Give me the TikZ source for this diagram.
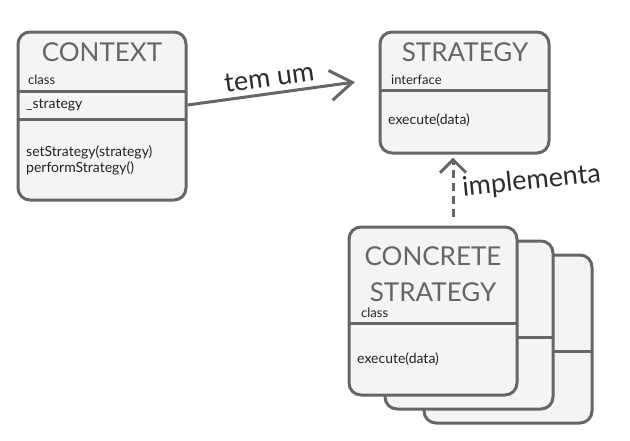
\documentclass[tikz,border=0pt]{standalone}
\usepackage{fontspec}
\setmainfont{Lato}
\usetikzlibrary{arrows.meta}
\definecolor{linegray}{HTML}{666666}
\definecolor{boxfill}{HTML}{F4F4F4}
\definecolor{inkgray}{HTML}{222222}

\begin{document}
\begin{tikzpicture}[x=1pt, y=-1pt,
    box/.style={draw=linegray, line width=3pt, fill=boxfill, rectangle, rounded corners=12pt, inner sep=0pt},
    rule/.style={draw=linegray, line width=3pt},
    title/.style={font=\fontsize{26}{31}\selectfont, text=linegray, inner sep=0pt},
    kind/.style={font=\fontsize{13}{15}\selectfont, text=inkgray, inner sep=0pt, anchor=west},
    member/.style={font=\fontsize{14}{17}\selectfont, text=inkgray, inner sep=0pt, anchor=west},
    lbl/.style={font=\fontsize{27}{32}\selectfont, text=inkgray!85!linegray, inner sep=2pt},
    hasa/.style={draw=linegray, line width=3pt, -{Straight Barb[length=22pt, width=30pt]}},
    impl/.style={draw=linegray, line width=3pt, dash pattern=on 8pt off 5pt, -{Straight Barb[length=13pt, width=26pt]}}]
    % page frame
    \useasboundingbox (0,0) rectangle (630,440);

    % context class
    \node (context) at (102,116) [box, minimum width=168pt, minimum height=168pt] {};
    \draw [rule] (18,91) -- (186,91);
    \draw [rule] (18,119) -- (186,119);
    \node (ctxtitle) at (102,52) [title] {CONTEXT};
    \node (ctxkind) at (28,80) [kind] {class};
    \node (ctxfield) at (26,105) [member] {\_strategy};
    \node (ctxset) at (26,152) [member] {setStrategy(strategy)};
    \node (ctxrun) at (26,168) [member] {performStrategy()};

    % strategy interface
    \node (strategy) at (464.5,92.5) [box, minimum width=169pt, minimum height=121pt] {};
    \draw [rule] (380,90) -- (549,90);
    \node (strtitle) at (465,52) [title] {STRATEGY};
    \node (strkind) at (391,80) [kind] {interface};
    \node (strexec) at (388,120) [member] {execute(data)};

    % concrete strategies, back to front
    \node (concreteC) at (508,339) [box, minimum width=168pt, minimum height=168pt] {};
    \draw [rule] (424,351) -- (592,351);
    \node (concreteB) at (469,325) [box, minimum width=168pt, minimum height=168pt] {};
    \draw [rule] (385,337) -- (553,337);
    \node (concrete) at (433,311) [box, minimum width=168pt, minimum height=168pt] {};
    \draw [rule] (349,323) -- (517,323);
    \node (contitle) at (433,274) [title, align=center] {CONCRETE\\[5pt]STRATEGY};
    \node (conkind) at (361,313) [kind] {class};
    \node (conexec) at (357,359) [member] {execute(data)};

    % connectors
    \coordinate (hasend) at (355,82);
    \draw [hasa] ([yshift=11pt]context.east) -- (hasend) node [midway, above=3pt, sloped, lbl] {tem um};
    \draw [impl] ([xshift=20pt, yshift=9pt]concrete.north) -- ([xshift=-11.5pt, yshift=-3pt]strategy.south) node [midway, right=6pt, yshift=-2pt, rotate=6, lbl] {implementa};
\end{tikzpicture}
\end{document}
